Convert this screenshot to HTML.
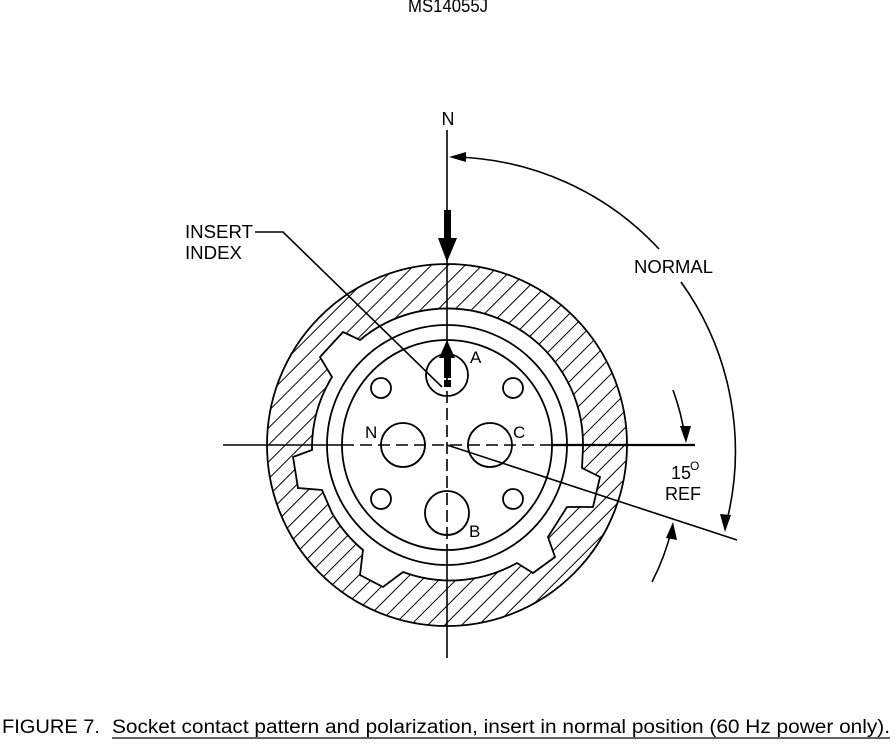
<!DOCTYPE html>
<html><head><meta charset="utf-8"><style>
body{margin:0;background:#fff;width:896px;height:744px;overflow:hidden;font-family:"Liberation Sans",Arial,sans-serif;}
</style></head><body>
<svg width="896" height="744" viewBox="0 0 896 744" xmlns="http://www.w3.org/2000/svg" font-family="Liberation Sans, Arial, sans-serif">
<defs>
<pattern id="h" patternUnits="userSpaceOnUse" width="12" height="12" patternTransform="rotate(45)">
<line x1="0" y1="0" x2="0" y2="12" stroke="#000" stroke-width="2"/>
</pattern>
</defs>
<text x="448" y="12" font-size="18" text-anchor="middle" textLength="80" lengthAdjust="spacingAndGlyphs">MS14055J</text>
<path fill="url(#h)" fill-rule="evenodd" stroke="#000" stroke-width="1.8"
d="M267,445 A180,181 0 1,1 627,445 A180,181 0 1,1 267,445 Z
M583,447 A136,136 0 0,0 360,340 L343,332 L320,357 L332,377 A136,136 0 0,0 312,450 L293,457 L298,488 L322,490 L332,513 A136,136 0 0,0 363,550 L360,575 L383,587 L403,572 A136,136 0 0,0 517,563 L533,573 L555,557 L548,537 L567,507 L593,507 L600,477 L582,468 Z"/>
<g fill="none" stroke="#000" stroke-width="1.8">
<circle cx="447" cy="445" r="120"/>
<circle cx="447" cy="445" r="105"/>
<circle cx="447" cy="375" r="21"/>
<circle cx="403" cy="445" r="22"/>
<circle cx="490" cy="445" r="22"/>
<circle cx="447" cy="513" r="22"/>
<circle cx="381" cy="388" r="10"/>
<circle cx="513" cy="388" r="10"/>
<circle cx="381" cy="499" r="10"/>
<circle cx="513" cy="499" r="10"/>
</g>
<g stroke="#000" stroke-width="1.6" fill="none">
<line x1="447" y1="130" x2="447" y2="340"/>
<line x1="447" y1="340" x2="447" y2="550" stroke-dasharray="12,5"/>
<line x1="447" y1="550" x2="447" y2="658"/>
<line x1="223" y1="445" x2="342" y2="445"/>
<line x1="342" y1="445" x2="552" y2="445" stroke-dasharray="12,6"/>
<line x1="552" y1="445" x2="695" y2="445" stroke-width="2.2"/>
<line x1="447" y1="445" x2="737" y2="540"/>
<polyline points="255,232 283,232 442,387"/>
<path d="M455,157 A288,288 0 0,1 659,249"/>
<path d="M681,282 A290,290 0 0,1 725,528"/>
<path d="M673,390 A240,240 0 0,1 685,437"/>
<path d="M652,582 A240,240 0 0,0 672,528"/>
</g>
<g fill="#000">
<polygon points="449,157 466,152 466,162"/>
<polygon points="725,532 720,514 731,515"/>
<polygon points="686,443 680,426 691,426"/>
<polygon points="673,522 666,538 677,540"/>
<rect x="444" y="210" width="7" height="30"/>
<polygon points="447,262 438,238 457,238"/>
<rect x="444" y="356" width="7" height="22"/>
<rect x="444" y="380" width="7" height="7"/>
<polygon points="447,340 439,358 455,358"/>
</g>
<g font-size="18">
<text x="448" y="125" text-anchor="middle">N</text>
<text x="185" y="238" textLength="68" lengthAdjust="spacingAndGlyphs">INSERT</text>
<text x="185" y="259" textLength="57" lengthAdjust="spacingAndGlyphs">INDEX</text>
<text x="634" y="273" textLength="79" lengthAdjust="spacingAndGlyphs">NORMAL</text>
<text x="470" y="363" font-size="17">A</text>
<text x="365" y="438" font-size="17">N</text>
<text x="513" y="438" font-size="17">C</text>
<text x="469" y="537" font-size="17">B</text>
<text x="671" y="479">15</text>
<text x="690" y="470" font-size="12">O</text>
<text x="665" y="500">REF</text>
<text x="2" y="733" font-size="19" textLength="98" lengthAdjust="spacingAndGlyphs">FIGURE 7.</text>
<text x="112" y="733" font-size="19" textLength="778" lengthAdjust="spacingAndGlyphs">Socket contact pattern and polarization, insert in normal position (60 Hz power only).</text>
</g>
<line x1="112" y1="738" x2="890" y2="738" stroke="#000" stroke-width="1.2"/>
</svg>
</body></html>
